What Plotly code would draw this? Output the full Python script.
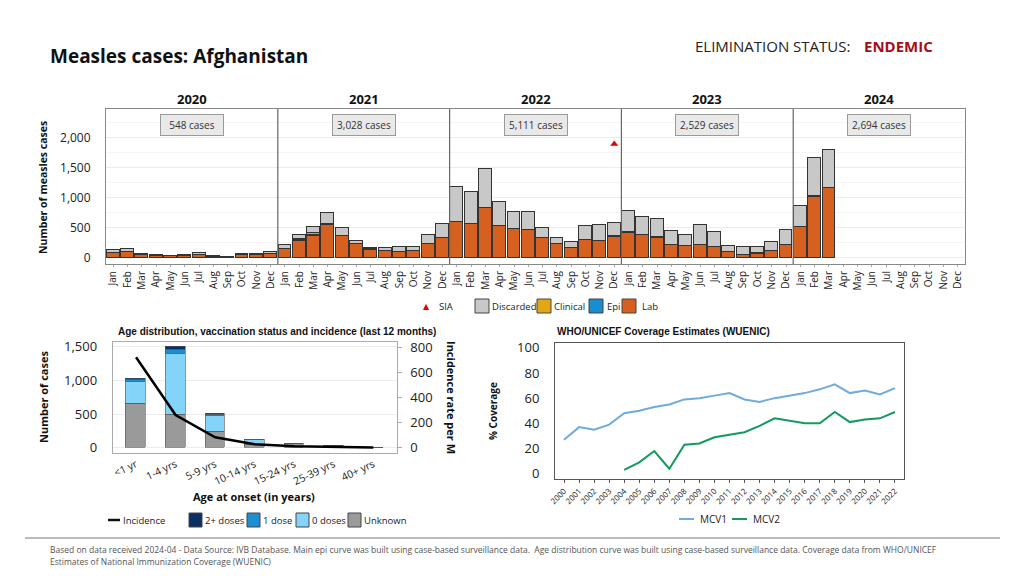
import plotly.graph_objects as go

# ---------------- DATA ----------------
months = ["Jan", "Feb", "Mar", "Apr", "May", "Jun", "Jul", "Aug", "Sep", "Oct", "Nov", "Dec"]
years = ["2020", "2021", "2022", "2023", "2024"]
year_cases = ["548 cases", "3,028 cases", "5,111 cases", "2,529 cases", "2,694 cases"]

N = None
lab = [83, 95, 39, 28, 22, 28, 44, 6, 6, 50, 50, 67,
       139, 278, 367, 545, 356, 222, 133, 106, 89, 111, 222, 333,
       589, 556, 823, 528, 478, 456, 328, 222, 156, 289, 272, 339,
       417, 372, 333, 206, 189, 217, 178, 89, 50, 56, 117, 206,
       511, 1017, 1156, N, N, N, N, N, N, N, N, N]
epi = [0, 5, 0, 5, 0, 3, 0, 8, 0, 0, 0, 0,
       0, 12, 10, 11, 5, 0, 10, 0, 0, 0, 0, 0,
       5, 5, 5, 5, 8, 5, 5, 3, 3, 3, 3, 22,
       5, 12, 5, 3, 3, 3, 3, 3, 3, 17, 3, 3,
       8, 8, 5, N, N, N, N, N, N, N, N, N]
clinical = [0, 0, 0, 0, 0, 0, 0, 0, 0, 0, 0, 0,
            0, 15, 30, 0, 0, 0, 0, 0, 0, 0, 0, 0,
            0, 0, 0, 0, 0, 0, 0, 0, 0, 0, 0, 0,
            0, 0, 8, 0, 0, 0, 0, 0, 0, 0, 0, 0,
            0, 0, 0, N, N, N, N, N, N, N, N, N]
discarded = [39, 50, 17, 11, 11, 8, 34, 19, 11, 6, 6, 28,
             72, 67, 99, 183, 134, 56, 18, 55, 89, 72, 156, 223,
             579, 534, 651, 390, 276, 295, 156, 97, 108, 236, 270, 223,
             356, 300, 293, 230, 192, 319, 247, 97, 119, 99, 136, 247,
             342, 642, 629, N, N, N, N, N, N, N, N, N]
sia_month_index = [35]
sia_value = [1895]

age_groups = ["<1 yr", "1-4 yrs", "5-9 yrs", "10-14 yrs", "15-24 yrs", "25-39 yrs", "40+ yrs"]
unknown = [658, 485, 240, 50, 55, 20, 3]
zero_doses = [322, 916, 235, 65, 8, 5, 1]
one_dose = [25, 59, 15, 3, 2, 0, 0]
two_plus = [20, 35, 15, 2, 0, 0, 0]
incidence = [723, 261, 83, 27, 11, 5, 1]

cov_years = list(range(2000, 2023))
mcv1 = [27, 37, 35, 39, 48, 50, 53, 55, 59, 60, 62, 64, 59, 57, 60, 62, 64, 67, 71, 64, 66, 63, 68]
mcv2 = [None, None, None, None, 3, 9, 18, 4, 23, 24, 29, 31, 33, 38, 44, 42, 40, 40, 49, 41, 43, 44, 49]

# ---------------- STYLE ----------------
OFF = 8                      # default page body margin
W, H = 1024 - OFF, 576 - OFF
FONT = "Open Sans"
AR = "Liberation Sans"
C_LAB = "#d6601f"
C_EPI = "#1a8cd0"
C_CLIN = "#e3a716"
C_DISC = "#c8c8c8"
C_2P = "#0b2f62"
C_1D = "#1d8ed0"
C_0D = "#84d3f9"
C_UNK = "#9a9a9a"
C_MCV1 = "#6fabdc"
C_MCV2 = "#139a5f"


def px(x):
    return (x - OFF) / W


def py(y):
    return 1 - (y - OFF) / H


ann = []
shapes = []


def text(x, y, s, size, color="#111", family=FONT, xanchor="center", angle=0, xref="paper", yref="paper", **kw):
    ann.append(dict(x=x, y=y, xref=xref, yref=yref, text=s, showarrow=False, xanchor=xanchor,
                    yanchor="middle", textangle=angle, font=dict(family=family, size=size, color=color), **kw))


fig = go.Figure()

xs = list(range(len(lab)))
tick_text = months * len(years)
line = dict(color="#333333", width=1)
for name, vals, col in [("Lab", lab, C_LAB), ("Epi", epi, C_EPI),
                        ("Clinical", clinical, C_CLIN), ("Discarded", discarded, C_DISC)]:
    fig.add_trace(go.Bar(x=xs, y=vals, name=name, marker=dict(color=col, line=line),
                         width=0.9, xaxis="x", yaxis="y", showlegend=False))
fig.add_trace(go.Scatter(x=sia_month_index, y=sia_value, mode="markers",
                         marker=dict(symbol="triangle-up", color="#e00000", size=7),
                         xaxis="x", yaxis="y", showlegend=False))

# bottom-left
xa = list(range(len(age_groups)))
for name, vals, col in [("Unknown", unknown, C_UNK), ("0 doses", zero_doses, C_0D),
                        ("1 dose", one_dose, C_1D), ("2+ doses", two_plus, C_2P)]:
    fig.add_trace(go.Bar(x=xa, y=vals, name=name, width=0.5,
                         marker=dict(color=col, line=dict(color="#555555", width=0.6)),
                         xaxis="x2", yaxis="y2", showlegend=False))
fig.add_trace(go.Scatter(x=xa, y=incidence, mode="lines", line=dict(color="black", width=2.5),
                         xaxis="x2", yaxis="y3", showlegend=False))

# bottom-right
fig.add_trace(go.Scatter(x=cov_years, y=mcv1, mode="lines", line=dict(color=C_MCV1, width=2),
                         xaxis="x4", yaxis="y4", showlegend=False))
fig.add_trace(go.Scatter(x=cov_years, y=mcv2, mode="lines", line=dict(color=C_MCV2, width=2),
                         xaxis="x4", yaxis="y4", showlegend=False))

# top panel annotations
panel_w = 12
for i, (yr, cs) in enumerate(zip(years, year_cases)):
    cx = i * panel_w + 5.5
    text(cx, py(99), f"<b>{yr}</b>", 13, xref="x")
    text(cx, py(125), cs, 10, color="#333", xref="x", bgcolor="#e9e9e9",
         bordercolor="#9a9a9a", borderwidth=1, borderpad=3, width=56)
    if i > 0:
        shapes.append(dict(type="line", xref="x", yref="paper", x0=i * panel_w - 0.5,
                           x1=i * panel_w - 0.5, y0=py(264), y1=py(109),
                           line=dict(color="#666", width=1.2)))

# titles
text(px(48), py(56), "<b>Measles cases: Afghanistan</b>", 19, xanchor="left")
text(px(852), py(46), "ELIMINATION STATUS:", 15, color="#222", xanchor="right")
text(px(862), py(46), "<b>ENDEMIC</b>", 15, color="#a50f15", xanchor="left")
text(px(43), py(188), "<b>Number of measles cases</b>", 10.5, angle=-90)

# top legend
text(px(426), py(306), "▲", 8, color="#e00000", family="DejaVu Sans")
text(px(437), py(306), "SIA", 9.5, color="#222", xanchor="left")
for bx, col, lbl in [(475, C_DISC, "Discarded"), (537, C_CLIN, "Clinical"), (589, C_EPI, "Epi"), (622, C_LAB, "Lab")]:
    shapes.append(dict(type="rect", xref="paper", yref="paper", x0=px(bx), x1=px(bx + 14),
                       y0=py(313), y1=py(299), fillcolor=col, line=dict(color="#444", width=1)))
for tx, lbl in [(490, "Discarded"), (552, "Clinical"), (605, "Epi"), (640, "Lab")]:
    text(px(tx), py(306), lbl, 9.5, color="#222", xanchor="left")

# bottom-left texts
text(px(277), py(331), "<b>Age distribution, vaccination status and incidence (last 12 months)</b>", 10, family=AR)
text(px(43), py(397), "<b>Number of cases</b>", 11, angle=-90)
text(px(452), py(397), "<b>Incidence rate per M</b>", 11, angle=90)
text(px(254), py(496), "<b>Age at onset (in years)</b>", 11)
shapes.append(dict(type="line", xref="paper", yref="paper", x0=px(108), x1=px(120), y0=py(520), y1=py(520),
                   line=dict(color="#111", width=2.5)))
text(px(121), py(520), "Incidence", 9.5, color="#222", xanchor="left")
for bx, col, lbl in [(189, C_2P, "2+ doses"), (247, C_1D, "1 dose"), (296, C_0D, "0 doses"), (348, C_UNK, "Unknown")]:
    shapes.append(dict(type="rect", xref="paper", yref="paper", x0=px(bx), x1=px(bx + 13),
                       y0=py(527), y1=py(513), fillcolor=col, line=dict(color="#444", width=1)))
    text(px(bx + 14), py(520), lbl, 9.5, color="#222", xanchor="left")

# bottom-right texts
text(px(555), py(331), "<b>WHO/UNICEF Coverage Estimates (WUENIC)</b>", 10, family=AR, xanchor="left")
text(px(493), py(411), "<b>% Coverage</b>", 10, angle=-90)
for lx, col, lbl in [(679, C_MCV1, "MCV1"), (732, C_MCV2, "MCV2")]:
    shapes.append(dict(type="line", xref="paper", yref="paper", x0=px(lx), x1=px(lx + 15), y0=py(519), y1=py(519),
                       line=dict(color=col, width=2)))
    text(px(lx + 19), py(519), lbl, 10, color="#222", xanchor="left")

# footer
shapes.append(dict(type="line", xref="paper", yref="paper", x0=px(25), x1=px(1000), y0=py(538), y1=py(538),
                   line=dict(color="#777", width=1)))
text(px(48), py(549), "Based on data received 2024-04 - Data Source: IVB Database. Main epi curve was built using case-based surveillance data.  Age distribution curve was built using case-based surveillance data. Coverage data from WHO/UNICEF",
     8.5, color="#555", xanchor="left")
text(px(48), py(561), "Estimates of National Immunization Coverage (WUENIC)", 8.5, color="#555", xanchor="left")

tickfont = dict(family=FONT, size=12, color="#222")
tickfont13 = dict(family=FONT, size=13, color="#222")

fig.update_layout(
    width=W, height=H, autosize=False, margin=dict(l=0, r=0, t=0, b=0, pad=0),
    paper_bgcolor="white", plot_bgcolor="white", barmode="stack", bargap=0,
    annotations=ann, shapes=shapes,
    xaxis=dict(domain=[px(106), px(965)], range=[-0.5, 59.5], tickmode="array", tickvals=xs, ticktext=tick_text,
               tickangle=-90, tickfont=dict(family=FONT, size=10, color="#222"), showline=True, mirror=True,
               linecolor="#888", ticks="outside", ticklen=2, tickcolor="#aaa", showgrid=False, zeroline=False,
               anchor="y", automargin=False),
    yaxis=dict(domain=[py(264), py(109)], range=[-105, 2480], tickvals=[0, 500, 1000, 1500, 2000],
               tickformat=",", tickfont=tickfont, showline=True, mirror=True, linecolor="#888",
               showgrid=True, gridcolor="#ececec", zeroline=False, ticklabelstandoff=12,
               minor=dict(dtick=250, showgrid=True, gridcolor="#f5f5f5"), anchor="x", automargin=False),
    xaxis2=dict(domain=[px(112.7), px(396.7)], range=[-0.59, 6.59], tickmode="array", tickvals=xa, ticktext=age_groups,
                tickangle=-25, tickfont=dict(family=FONT, size=10.5, color="#222"), showline=True, mirror=True,
                linecolor="#aaa", showgrid=False, zeroline=False, anchor="y2", automargin=False),
    yaxis2=dict(domain=[py(453.3), py(341.7)], range=[-83, 1574], tickvals=[0, 500, 1000, 1500], tickformat=",",
                tickfont=tickfont13, showline=True, linecolor="#aaa", showgrid=True, gridcolor="#ececec",
                zeroline=False, anchor="x2", ticklabelstandoff=12, automargin=False),
    yaxis3=dict(overlaying="y2", side="right", range=[-45, 848], tickvals=[0, 200, 400, 600, 800],
                tickfont=tickfont13, showline=True, linecolor="#aaa", ticks="outside", ticklen=4, tickcolor="#aaa",
                showgrid=False, zeroline=False, anchor="x2", ticklabelstandoff=6, automargin=False),
    xaxis4=dict(domain=[px(555), px(904)], range=[1999.4, 2022.6], tickmode="array", tickvals=cov_years,
                tickangle=-45, tickfont=dict(family=FONT, size=8, color="#222"), showline=True, mirror=True,
                linecolor="#555", ticks="outside", ticklen=3, tickcolor="#555", showgrid=False, zeroline=False,
                anchor="y4", automargin=False),
    yaxis4=dict(domain=[py(479.3), py(342.7)], range=[-4.4, 104], tickvals=[0, 20, 40, 60, 80, 100],
                tickfont=tickfont13, showline=True, mirror=True, linecolor="#555", showgrid=False, zeroline=False,
                anchor="x4", ticklabelstandoff=12, automargin=False),
)

fig.write_html("out.html")
